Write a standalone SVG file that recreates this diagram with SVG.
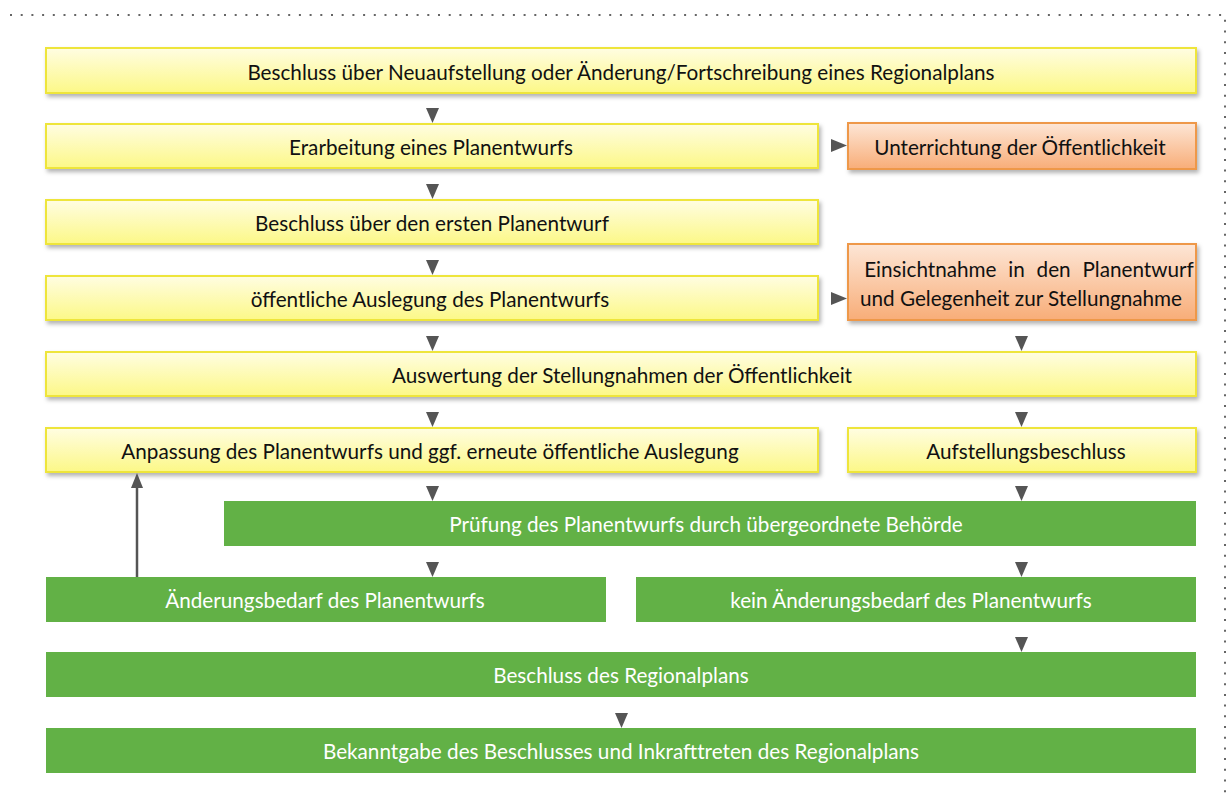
<svg xmlns="http://www.w3.org/2000/svg" width="1232" height="805" viewBox="0 0 1232 805">
<defs>
<linearGradient id="gy" x1="0" y1="0" x2="0" y2="1">
<stop offset="0" stop-color="#fffde2"/>
<stop offset="1" stop-color="#fcf887"/>
</linearGradient>
<linearGradient id="go" x1="0" y1="0" x2="0" y2="1">
<stop offset="0" stop-color="#fde6d6"/>
<stop offset="1" stop-color="#f8ad78"/>
</linearGradient>
<filter id="sh" x="-5%" y="-30%" width="110%" height="170%">
<feDropShadow dx="2" dy="3" stdDeviation="2" flood-color="#000" flood-opacity="0.3"/>
</filter>
</defs>
<style>
.y{fill:url(#gy);stroke:#eee53a;stroke-width:2;filter:url(#sh)}
.o{fill:url(#go);stroke:#ee9848;stroke-width:2;filter:url(#sh)}
.g{fill:#62b146}
.t{font-family:Lato,"Open Sans",sans-serif;font-size:20.7px;text-anchor:middle;fill:#111}
.w{font-family:Lato,"Open Sans",sans-serif;font-size:20.7px;text-anchor:middle;fill:#fff}
.ah{fill:#555}
.border{fill:none;stroke:#666;stroke-width:2;stroke-dasharray:2 8.7}
</style>
<g id="frame">
<path class="border" d="M10 15 H1225 V800"/>
</g>
<g id="n1"><rect class="y" x="46" y="48" width="1150" height="45"/><text class="t" x="621" y="80">Beschluss über Neuaufstellung oder Änderung/Fortschreibung eines Regionalplans</text></g>
<g id="n2"><rect class="y" x="46" y="124" width="772" height="44"/><text class="t" x="431" y="155">Erarbeitung eines Planentwurfs</text></g>
<g id="n2b"><rect class="o" x="848" y="123" width="348" height="46"/><text class="t" x="1020" y="155">Unterrichtung der Öffentlichkeit</text></g>
<g id="n3"><rect class="y" x="46" y="200" width="772" height="44"/><text class="t" x="432" y="231">Beschluss über den ersten Planentwurf</text></g>
<g id="n4"><rect class="y" x="46" y="276" width="772" height="44"/><text class="t" x="430" y="307">öffentliche Auslegung des Planentwurfs</text></g>
<g id="n4b"><rect class="o" x="848" y="244" width="348" height="76"/><text class="t" x="1029" y="277" word-spacing="6.5">Einsichtnahme in den Planentwurf</text><text class="t" x="1021" y="306">und Gelegenheit zur Stellungnahme</text></g>
<g id="n5"><rect class="y" x="46" y="352" width="1150" height="44"/><text class="t" x="622" y="383">Auswertung der Stellungnahmen der Öffentlichkeit</text></g>
<g id="n6"><rect class="y" x="46" y="428" width="772" height="44"/><text class="t" x="430" y="459">Anpassung des Planentwurfs und ggf. erneute öffentliche Auslegung</text></g>
<g id="n6b"><rect class="y" x="848" y="428" width="348" height="44"/><text class="t" x="1026" y="459">Aufstellungsbeschluss</text></g>
<g id="n7"><rect class="g" x="224" y="501" width="972" height="45"/><text class="w" x="706" y="532">Prüfung des Planentwurfs durch übergeordnete Behörde</text></g>
<g id="n8a"><rect class="g" x="46" y="577" width="560" height="45"/><text class="w" x="325" y="608">Änderungsbedarf des Planentwurfs</text></g>
<g id="n8b"><rect class="g" x="636" y="577" width="560" height="45"/><text class="w" x="911" y="608">kein Änderungsbedarf des Planentwurfs</text></g>
<g id="n9"><rect class="g" x="46" y="652" width="1150" height="45"/><text class="w" x="621" y="683">Beschluss des Regionalplans</text></g>
<g id="n10"><rect class="g" x="46" y="728" width="1150" height="45"/><text class="w" x="621" y="759">Bekanntgabe des Beschlusses und Inkrafttreten des Regionalplans</text></g>
<g id="connectors">
<polygon class="ah" points="426,108 439,108 432.5,123"/>
<polygon class="ah" points="426,184 439,184 432.5,199"/>
<polygon class="ah" points="426,260 439,260 432.5,275"/>
<polygon class="ah" points="426,336 439,336 432.5,351"/>
<polygon class="ah" points="426,412 439,412 432.5,427"/>
<polygon class="ah" points="426,486 439,486 432.5,501"/>
<polygon class="ah" points="426,562 439,562 432.5,577"/>
<polygon class="ah" points="1015,336 1028,336 1021.5,351"/>
<polygon class="ah" points="1015,412 1028,412 1021.5,427"/>
<polygon class="ah" points="1015,486 1028,486 1021.5,501"/>
<polygon class="ah" points="1015,562 1028,562 1021.5,577"/>
<polygon class="ah" points="1015,637 1028,637 1021.5,652"/>
<polygon class="ah" points="615,713 628,713 621.5,728"/>
<polygon class="ah" points="831,139 831,152 847,145.5"/>
<polygon class="ah" points="831,292 831,305 847,298.5"/>
<line x1="137" y1="577" x2="137" y2="486" stroke="#555" stroke-width="2.5"/>
<polygon class="ah" points="131,488 143,488 137,473"/>
</g>
</svg>
